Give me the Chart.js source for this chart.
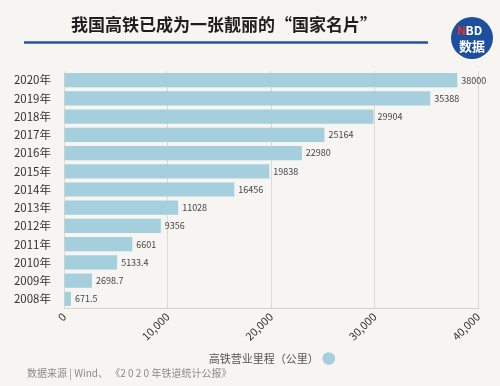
<!DOCTYPE html>
<html>
<head>
<meta charset="utf-8">
<script src="https://cdn.jsdelivr.net/npm/chart.js@4"></script>
<style>
html,body{margin:0;padding:0;background:#f7f5f1;}
#wrap{width:500px;height:386px;position:relative;}
</style>
</head>
<body>
<div id="wrap"><canvas id="c" width="500" height="386"></canvas></div>
<script>
const years = ['2008年','2009年','2010年','2011年','2012年','2013年','2014年','2015年','2016年','2017年','2018年','2019年','2020年'];
const mileage = [671.5, 2698.7, 5133.4, 6601, 9356, 11028, 16456, 19838, 22980, 25164, 29904, 35388, 38000];
const valueLabels = ['671.5','2698.7','5133.4','6601','9356','11028','16456','19838','22980','25164','29904','35388','38000'];
const seriesName = '高铁营业里程（公里）';
const titleText = '我国高铁已成为一张靓丽的“国家名片”';
const sourceText = '数据来源 | Wind、 《2 0 2 0 年铁道统计公报》';

const FONT = '"Noto Sans CJK SC", "Noto Sans", sans-serif';
const BAR = '#a5cfdc';

const decor = {
  id: 'decor',
  beforeDraw(chart) {
    const ctx = chart.ctx;
    ctx.save();
    ctx.fillStyle = '#f7f5f1';
    ctx.fillRect(0, 0, chart.width, chart.height);
    ctx.restore();
  },
  afterDraw(chart) {
    const ctx = chart.ctx;
    ctx.save();
    // title
    ctx.fillStyle = '#1e1e1e';
    ctx.font = 'bold 17px ' + FONT;
    ctx.textAlign = 'center';
    ctx.textBaseline = 'middle';
    ctx.fillText(titleText, 224, 25);
    // blue rule
    ctx.strokeStyle = '#2552a3';
    ctx.lineWidth = 2.5;
    ctx.beginPath();
    ctx.moveTo(24, 42.5);
    ctx.lineTo(428, 42.5);
    ctx.stroke();
    // logo
    ctx.fillStyle = '#1c4f9e';
    ctx.beginPath();
    ctx.arc(472, 38, 21, 0, Math.PI * 2);
    ctx.fill();
    ctx.font = 'bold 12px ' + FONT;
    ctx.textAlign = 'left';
    ctx.fillStyle = '#e8322d';
    ctx.fillText('N', 457, 30);
    ctx.fillStyle = '#ffffff';
    ctx.fillText('BD', 465.5, 30);
    ctx.font = 'bold 13px ' + FONT;
    ctx.textAlign = 'center';
    ctx.fillText('数据', 472, 46);
    // source
    ctx.font = '10px ' + FONT;
    ctx.fillStyle = '#8a8a8a';
    ctx.textAlign = 'left';
    ctx.fillText(sourceText, 27, 373);
    // value labels
    const meta = chart.getDatasetMeta(0);
    ctx.font = '9px ' + FONT;
    ctx.fillStyle = '#444';
    ctx.textAlign = 'left';
    ctx.textBaseline = 'middle';
    meta.data.forEach((bar, i) => {
      ctx.fillText(valueLabels[i], bar.x + 4, bar.y);
    });
    ctx.restore();
  }
};

new Chart(document.getElementById('c'), {
  type: 'bar',
  data: {
    labels: years,
    datasets: [{
      label: seriesName,
      data: mileage,
      backgroundColor: BAR,
      borderWidth: 0,
      categoryPercentage: 1,
      barPercentage: 0.78
    }]
  },
  options: {
    indexAxis: 'y',
    responsive: false,
    animation: false,
    devicePixelRatio: 1,
    layout: { padding: { top: 71, right: 22, left: 0, bottom: 12 } },
    scales: {
      x: {
        min: 0, max: 40000,
        ticks: {
          stepSize: 10000,
          maxRotation: 45, minRotation: 45,
          color: '#333',
          font: { family: FONT, size: 11 },
          padding: 2
        },
        grid: { color: '#dddad5', drawTicks: false },
        border: { color: '#d6d3ce' },
        afterFit(s) { s.height = 39; }
      },
      y: {
        reverse: true,
        ticks: {
          color: '#333',
          font: { family: FONT, size: 11.5 },
          padding: 5
        },
        grid: { display: false },
        border: { display: false },
        afterFit(s) { s.width = 64; }
      }
    },
    plugins: {
      legend: {
        position: 'bottom',
        fullSize: false,
        rtl: true,
        textDirection: 'ltr',
        labels: {
          usePointStyle: true,
          pointStyle: 'circle',
          boxWidth: 9, boxHeight: 9,
          color: '#555',
          font: { family: FONT, size: 11 },
          padding: 6
        }
      },
      tooltip: { enabled: false }
    }
  },
  plugins: [decor]
});
</script>
</body>
</html>
